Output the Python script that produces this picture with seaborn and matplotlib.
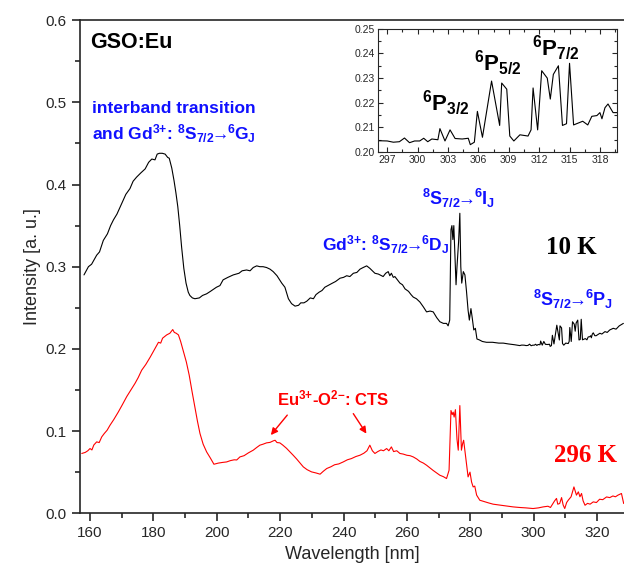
import matplotlib
matplotlib.use("Agg")
import matplotlib.pyplot as plt
from matplotlib.ticker import MultipleLocator
import seaborn as sns
import numpy as np

# ── DATA ──────────────────────────────────────────────────────────────────────
wl_10k = [158.1, 159.5, 160.5, 161.5, 162.1, 163.0, 164.2, 165.5, 166.5, 167.4, 168.5,
          170.0, 171.3, 172.6, 173.6, 174.7, 176.0, 177.4, 178.5, 179.5, 180.5, 181.2,
          181.9, 182.8, 183.7, 184.5, 185.0, 185.8, 186.5, 187.1, 187.7, 188.3, 188.9,
          189.6, 190.3, 191.0, 191.5, 192.3, 193.1, 194.5, 195.5, 196.8, 198.0, 199.9,
          201.0, 202.0, 203.5, 205.2, 207.0, 208.0, 209.4, 210.5, 211.5, 212.6, 213.6,
          214.6, 215.7, 216.8, 217.8, 219.0, 220.5, 221.5, 222.6, 223.6, 224.7, 225.8,
          226.5, 227.5, 228.4, 229.5, 230.5, 231.3, 232.3, 233.2, 234.1, 235.5, 236.5,
          237.5, 238.9, 240.0, 241.0, 242.0, 243.1, 244.2, 245.2, 246.2, 247.3, 248.3,
          249.1, 249.9, 251.0, 252.5, 253.3, 254.1, 254.6, 255.1, 255.7, 256.2, 257.0,
          257.8, 258.6, 259.4, 260.5, 261.3, 262.0, 263.0, 264.1, 265.2, 266.2, 267.3,
          268.3, 269.4, 270.4, 271.5, 272.5, 273.0, 273.5, 273.9, 274.2, 274.5, 274.8,
          275.1, 275.5, 275.8, 276.3, 276.7, 277.0, 277.3, 277.8, 278.3, 278.8, 279.3,
          279.7, 280.2, 280.6, 281.1, 281.6, 282.1, 282.8, 283.8, 285.1, 287.0, 289.0,
          290.4, 292.0, 294.0, 295.6, 296.2, 297.0, 297.6, 298.2, 298.7, 299.2, 299.7,
          300.2, 300.6, 301.0, 301.4, 302.0, 302.2, 302.7, 303.2, 303.7, 304.4, 305.0,
          305.2, 305.6, 305.9, 306.4, 307.3, 308.1, 308.3, 308.8, 309.1, 309.5, 310.1,
          310.9, 311.2, 311.4, 311.85, 312.25, 312.8, 313.1, 313.4, 313.9, 314.3, 314.7,
          315.0, 315.4, 316.0, 316.3, 316.8, 317.2, 317.7, 318.0, 318.2, 318.5, 318.8,
          319.3, 319.7, 320.9, 321.5, 322.5, 323.2, 324.0, 325.1, 326.0, 327.0, 328.3]
int_10k = [0.290, 0.300, 0.303, 0.310, 0.314, 0.318, 0.332, 0.340, 0.350, 0.357, 0.364,
           0.377, 0.388, 0.395, 0.404, 0.409, 0.414, 0.419, 0.427, 0.431, 0.430, 0.437,
           0.438, 0.438, 0.437, 0.433, 0.432, 0.420, 0.405, 0.390, 0.373, 0.350, 0.324,
           0.298, 0.280, 0.269, 0.265, 0.262, 0.261, 0.262, 0.265, 0.267, 0.270, 0.275,
           0.277, 0.284, 0.287, 0.290, 0.292, 0.295, 0.296, 0.295, 0.299, 0.301, 0.300,
           0.300, 0.299, 0.297, 0.294, 0.289, 0.280, 0.275, 0.261, 0.255, 0.252, 0.253,
           0.256, 0.256, 0.258, 0.262, 0.261, 0.266, 0.269, 0.271, 0.275, 0.278, 0.280,
           0.282, 0.286, 0.287, 0.289, 0.288, 0.292, 0.293, 0.297, 0.299, 0.301, 0.298,
           0.295, 0.292, 0.291, 0.288, 0.292, 0.294, 0.289, 0.292, 0.287, 0.288, 0.284,
           0.280, 0.278, 0.273, 0.270, 0.266, 0.263, 0.261, 0.257, 0.251, 0.245, 0.246,
           0.245, 0.238, 0.233, 0.231, 0.231, 0.228, 0.235, 0.345, 0.350, 0.333, 0.350,
           0.320, 0.278, 0.300, 0.330, 0.365, 0.300, 0.280, 0.294, 0.290, 0.270, 0.247,
           0.235, 0.249, 0.238, 0.223, 0.225, 0.212, 0.211, 0.209, 0.208, 0.208, 0.207,
           0.207, 0.206, 0.205, 0.204, 0.2046, 0.2045, 0.2040, 0.2042, 0.2057, 0.2038, 0.2045,
           0.2045, 0.2056, 0.2042, 0.2053, 0.2050, 0.2095, 0.2045, 0.2090, 0.2055, 0.2053, 0.2056,
           0.2030, 0.2040, 0.2165, 0.2060, 0.2288, 0.2108, 0.2280, 0.2255, 0.2065, 0.2045, 0.2070,
           0.2065, 0.2090, 0.2260, 0.2090, 0.2330, 0.2300, 0.2215, 0.2315, 0.2350, 0.2108, 0.2115,
           0.2360, 0.2110, 0.2120, 0.2125, 0.2110, 0.2145, 0.2148, 0.2160, 0.2135, 0.2180, 0.2195,
           0.2160, 0.2160, 0.219, 0.218, 0.221, 0.220, 0.223, 0.225, 0.224, 0.228, 0.231]

wl_296k = [157.4, 158.5, 159.3, 160.0, 160.6, 161.2, 162.1, 162.9, 163.7, 164.5, 165.4,
           166.3, 167.5, 168.9, 170.2, 171.6, 172.9, 174.2, 175.2, 176.3, 177.6, 179.0,
           180.3, 181.6, 182.3, 182.9, 184.2, 185.2, 186.1, 186.6, 187.2, 187.9, 188.6,
           189.4, 190.4, 191.3, 192.2, 193.1, 193.9, 194.7, 195.7, 196.8, 198.0, 199.1,
           200.5, 201.8, 203.1, 204.3, 205.5, 206.3, 207.3, 208.6, 210.0, 211.5, 212.6,
           213.6, 214.6, 215.7, 216.8, 217.8, 218.4, 219.0, 219.9, 220.8, 222.0, 223.0,
           224.1, 225.2, 226.3, 227.3, 228.5, 229.9, 231.3, 232.6, 233.6, 234.7, 236.0,
           237.2, 238.5, 239.9, 241.2, 242.5, 243.9, 245.2, 246.4, 247.4, 248.3, 249.1,
           249.9, 250.8, 251.8, 252.6, 253.6, 254.3, 255.1, 255.8, 256.8, 257.8, 258.8,
           260.0, 261.0, 262.0, 263.1, 264.1, 265.2, 266.2, 267.3, 268.3, 269.4, 270.4,
           271.5, 272.5, 273.3, 273.9, 274.3, 274.6, 274.9, 275.3, 275.8, 276.2, 276.7,
           277.2, 277.6, 277.9, 278.5, 279.3, 279.9, 280.4, 280.9, 281.4, 282.0, 283.0,
           284.5, 285.8, 287.2, 289.0, 291.0, 293.5, 295.5, 297.5, 299.8, 301.5, 303.0,
           304.5, 305.3, 306.1, 306.6, 307.2, 307.6, 308.2, 308.8, 309.3, 309.8, 310.4,
           310.9, 311.8, 312.7, 313.1, 313.5, 314.1, 314.6, 315.1, 315.6, 316.2, 317.0,
           317.8, 318.8, 319.8, 320.8, 321.8, 323.0, 324.0, 325.0, 325.8, 326.6, 327.7, 328.4]
int_296k = [0.0727, 0.0740, 0.0760, 0.0787, 0.0770, 0.0830, 0.0868, 0.0860, 0.0929, 0.0970, 0.1010,
            0.1070, 0.1140, 0.1230, 0.1320, 0.1420, 0.1500, 0.1580, 0.1650, 0.1740, 0.1810, 0.1900,
            0.1990, 0.2080, 0.2070, 0.2130, 0.2170, 0.2190, 0.2235, 0.2200, 0.2190, 0.2170, 0.2090,
            0.1980, 0.1840, 0.1680, 0.1480, 0.1290, 0.1120, 0.0970, 0.0840, 0.0746, 0.0670, 0.0596,
            0.0610, 0.0618, 0.0624, 0.0640, 0.0650, 0.0648, 0.0685, 0.0700, 0.0735, 0.0767, 0.0800,
            0.0828, 0.0840, 0.0856, 0.0862, 0.0880, 0.0888, 0.0860, 0.0856, 0.0830, 0.0790, 0.0750,
            0.0706, 0.0660, 0.0610, 0.0564, 0.0530, 0.0503, 0.0490, 0.0475, 0.0510, 0.0544, 0.0565,
            0.0590, 0.0600, 0.0624, 0.0650, 0.0665, 0.0690, 0.0706, 0.0730, 0.0760, 0.0828, 0.0760,
            0.0727, 0.0750, 0.0770, 0.0760, 0.0787, 0.0760, 0.0807, 0.0750, 0.0760, 0.0727, 0.0720,
            0.0705, 0.0700, 0.0685, 0.0660, 0.0630, 0.0610, 0.0584, 0.0550, 0.0520, 0.0490, 0.0462,
            0.0445, 0.0422, 0.0523, 0.1250, 0.1200, 0.1230, 0.1170, 0.1260, 0.0900, 0.0767, 0.1310,
            0.0767, 0.0850, 0.0888, 0.0700, 0.0442, 0.0500, 0.0380, 0.0320, 0.0330, 0.0220, 0.0158,
            0.0140, 0.0125, 0.0110, 0.0100, 0.0090, 0.0077, 0.0070, 0.0065, 0.0057, 0.0065, 0.0077,
            0.0085, 0.0070, 0.0118, 0.0150, 0.0180, 0.0110, 0.0118, 0.0190, 0.0100, 0.0057, 0.0130,
            0.0158, 0.0200, 0.0320, 0.0270, 0.0220, 0.0260, 0.0200, 0.0240, 0.0150, 0.0097, 0.0120,
            0.0110, 0.0138, 0.0130, 0.0170, 0.0165, 0.0198, 0.0190, 0.0210, 0.0200, 0.0220, 0.0240, 0.0118]

# ── STYLE ─────────────────────────────────────────────────────────────────────
sns.set_style("ticks")
plt.rcParams.update({
    'font.family': ['Liberation Sans', 'DejaVu Sans'],
    'mathtext.fontset': 'custom',
    'mathtext.rm': 'Liberation Sans',
    'mathtext.bf': 'Liberation Sans:bold',
    'mathtext.it': 'Liberation Sans:italic',
    'mathtext.default': 'bf',
    'axes.linewidth': 1.2,
})

BLUE = '#1010ff'
RED = '#ff0000'
ARR = r'\!\!\rightarrow\!\!'   # tight arrow between the term symbols

fig = plt.figure(figsize=(6.24, 5.76), dpi=100)
ax = fig.add_axes([0.128, 0.109, 0.872, 0.856])

sns.lineplot(x=wl_10k, y=int_10k, ax=ax, color='black', lw=0.8)
sns.lineplot(x=wl_296k, y=int_296k, ax=ax, color=RED, lw=0.8)

ax.set_xlim(156.8, 328.5)
ax.set_ylim(0, 0.6)
ax.xaxis.set_major_locator(MultipleLocator(20))
ax.xaxis.set_minor_locator(MultipleLocator(10))
ax.yaxis.set_major_locator(MultipleLocator(0.1))
ax.yaxis.set_minor_locator(MultipleLocator(0.05))
ax.yaxis.set_major_formatter(plt.FormatStrFormatter('%.1f'))
ax.tick_params(which='major', direction='out', length=6, width=1.2, labelsize=11)
ax.tick_params(which='minor', direction='out', length=3.5, width=1.2)
ax.spines['right'].set_visible(False)
ax.set_xlabel('Wavelength [nm]', fontsize=13)
ax.set_ylabel('Intensity [a. u.]', fontsize=13, labelpad=3)

# ── TEXT ──────────────────────────────────────────────────────────────────────
ax.text(160.0, 0.566, 'GSO:Eu', fontsize=15.5, fontweight='bold', color='black')
ax.text(160.6, 0.487, 'interband transition', fontsize=12.5, fontweight='bold', color=BLUE)
ax.text(160.6, 0.454, r'and Gd$^{3{+}}$: $^8$S$_{7/2}' + ARR + r'^6$G$_J$',
        fontsize=12.5, fontweight='bold', color=BLUE)
ax.text(233.2, 0.320, r'Gd$^{3{+}}$: $^8$S$_{7/2}' + ARR + r'^6$D$_J$',
        fontsize=12.5, fontweight='bold', color=BLUE)
ax.text(264.7, 0.375, r'$^8$S$_{7/2}' + ARR + r'^6$I$_J$',
        fontsize=13, fontweight='bold', color=BLUE)
ax.text(299.7, 0.252, r'$^8$S$_{7/2}' + ARR + r'^6$P$_J$',
        fontsize=13, fontweight='bold', color=BLUE)
ax.text(319.9, 0.316, '10 K', fontsize=18, fontweight='bold', color='black',
        family='Liberation Serif', ha='right')
ax.text(326.2, 0.062, '296 K', fontsize=18, fontweight='bold', color=RED,
        family='Liberation Serif', ha='right')
ax.text(219.0, 0.131, r'Eu$^{3{+}}$-O$^{2{-}}$: CTS', fontsize=12, fontweight='bold', color=RED)
for tail, tip in [((222.8, 0.122), (216.5, 0.0925)), ((242.6, 0.124), (247.7, 0.094))]:
    ax.annotate('', xy=tip, xytext=tail,
                arrowprops=dict(arrowstyle='-|>', color=RED, lw=1.0, mutation_scale=10))

# ── INSET ─────────────────────────────────────────────────────────────────────
axin = fig.add_axes([0.606, 0.736, 0.383, 0.214])
sns.lineplot(x=wl_10k, y=int_10k, ax=axin, color='black', lw=0.8)
axin.set_xlim(296.1, 319.7)
axin.set_ylim(0.2, 0.25)
axin.xaxis.set_major_locator(MultipleLocator(3))
axin.xaxis.set_minor_locator(MultipleLocator(1.5))
axin.yaxis.set_major_locator(MultipleLocator(0.01))
axin.yaxis.set_minor_locator(MultipleLocator(0.005))
axin.yaxis.set_major_formatter(plt.FormatStrFormatter('%.2f'))
axin.tick_params(which='both', direction='in', top=True, right=True, width=0.8)
axin.tick_params(which='major', length=3.5, labelsize=7.5, pad=2)
axin.tick_params(which='minor', length=2)
for s in axin.spines.values():
    s.set_linewidth(0.8)
axin.set_xlabel('')
axin.set_ylabel('')
axin.text(300.4, 0.2165, r'$^6$P$_{3/2}$', fontsize=16, fontweight='bold', color='black')
axin.text(305.6, 0.2330, r'$^6$P$_{5/2}$', fontsize=16, fontweight='bold', color='black')
axin.text(311.3, 0.2390, r'$^6$P$_{7/2}$', fontsize=16, fontweight='bold', color='black')

fig.savefig('out.png', dpi=100, facecolor='white')
